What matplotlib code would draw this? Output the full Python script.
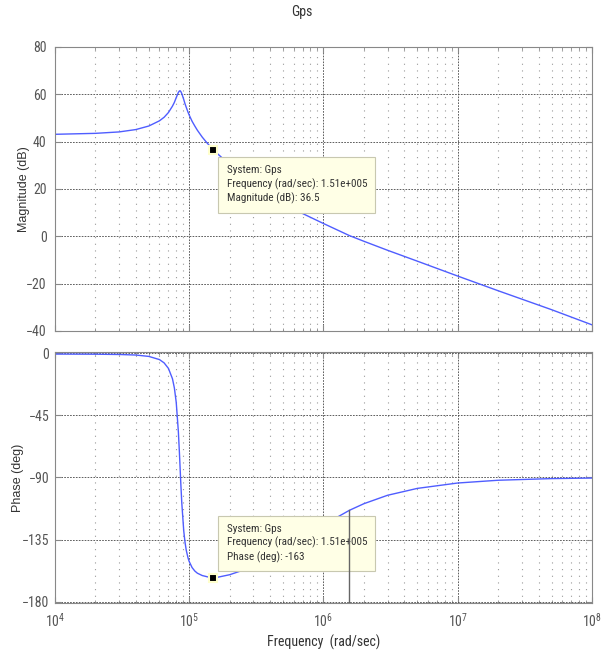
import matplotlib
matplotlib.use("Agg")
import matplotlib.pyplot as plt
from matplotlib.ticker import LogLocator, NullFormatter

plt.rcParams["font.family"] = ["Roboto Condensed", "Liberation Sans", "DejaVu Sans"]

# frequency response
freq = [1e4, 2e4, 3e4, 4e4, 5e4, 6e4, 6.5e4, 7e4, 7.5e4, 7.75e4, 8e4, 8.3e4, 8.45e4, 8.55e4,
        8.65e4, 8.8e4, 9.1e4, 9.3e4, 9.5e4, 9.8e4, 1e5, 1.05e5, 1.1e5, 1.15e5, 1.25e5, 1.35e5,
        1.51e5, 2e5, 3e5, 5e5, 7e5, 1e6, 1.56e6, 2e6, 3e6, 5e6, 1e7, 2e7, 5e7, 1e8]
mag_db = [43.1, 43.5, 44.1, 45.1, 46.6, 48.8, 50.3, 52.3, 55.0, 56.6, 58.6, 60.8, 61.4, 61.5,
          61.2, 60.3, 57.8, 56.0, 54.5, 52.4, 51.2, 48.6, 46.6, 44.8, 41.9, 39.6,
          36.5, 30.3, 22.6, 14.4, 9.6, 5.4, 0.3, -2.1, -5.9, -10.5, -16.8, -23.0, -31.0, -37.4]
phase_deg = [-0.5, -0.6, -0.8, -1.2, -2.2, -4.5, -6.9, -10.9, -18.4, -25.1, -35.5, -56.9, -72.0, -83.0,
             -94.0, -108.4, -128.7, -136.9, -142.7, -148.4, -151.0, -155.3, -157.8, -159.4, -161.1, -161.9,
             -163.0, -160.5, -154.7, -143.3, -134.1, -124.4, -113.8, -109.0, -102.9, -97.9, -94.0, -92.0, -90.8, -90.4]

tip_freq = 1.51e5
tip_mag = 36.5
tip_phase = -163
cross_freq = 1.56e6
cross_phase = -113.8

mag_ticks = [-40, -20, 0, 20, 40, 60, 80]
phase_ticks = [-180, -135, -90, -45, 0]

line_color = "#4f5dff"
label_color = "#555555"
box_style = dict(boxstyle="square,pad=0.75", facecolor="#ffffe6", edgecolor="#c8c8b0", linewidth=0.8)

fig = plt.figure(figsize=(6.03, 6.55), dpi=100)
ax_mag = fig.add_axes([0.0912, 0.4947, 0.8905, 0.4336])
ax_ph = fig.add_axes([0.0912, 0.0794, 0.8905, 0.3832])


def style_axis(ax, yticks, ylim):
    ax.set_xscale("log")
    ax.set_xlim(1e4, 1e8)
    ax.set_ylim(*ylim)
    ax.set_yticks(yticks)
    ax.xaxis.set_minor_locator(LogLocator(base=10, subs=range(2, 10), numticks=20))
    ax.xaxis.set_minor_formatter(NullFormatter())
    ax.grid(True, which="major", color="#444444", linestyle=(0, (2, 1.5)), linewidth=0.6)
    ax.grid(True, which="minor", axis="x", color="#999999", linestyle=(0, (1, 5)), linewidth=0.8)
    ax.tick_params(which="both", direction="in", colors="#888888", labelcolor=label_color,
                   labelsize=10, top=True, right=True)
    ax.tick_params(which="major", length=4, pad=6)
    ax.tick_params(which="minor", length=2)
    for s in ax.spines.values():
        s.set_color("#888888")
        s.set_linewidth(0.8)


style_axis(ax_mag, mag_ticks, (-40, 80))
style_axis(ax_ph, phase_ticks, (-181, 1))
ax_mag.tick_params(labelbottom=False)
ax_ph.tick_params(axis="y", pad=4)

ax_mag.plot(freq, mag_db, color=line_color, linewidth=1.0)
ax_ph.plot(freq, phase_deg, color=line_color, linewidth=1.0)

# vertical marker on phase plot
ax_ph.plot([cross_freq, cross_freq], [-181, cross_phase], color="#666666", linewidth=1.0, zorder=6)

# data tips
for ax, yv, txt, off, va in [
        (ax_mag, tip_mag, "System: Gps\nFrequency (rad/sec): 1.51e+005\nMagnitude (dB): 36.5", (9.6, -11), "top"),
        (ax_ph, tip_phase, "System: Gps\nFrequency (rad/sec): 1.51e+005\nPhase (deg): -163", (9.6, 11), "bottom")]:
    ax.plot([tip_freq], [yv], marker="s", markersize=6, color="black",
            markeredgecolor="#ffffcc", markeredgewidth=1.5, zorder=5)
    ax.annotate(txt, xy=(tip_freq, yv), xytext=off, textcoords="offset points",
                ha="left", va=va, fontsize=8, color="#333333", linespacing=1.35,
                bbox=box_style, zorder=4)

ylab_font = dict(fontsize=9, color="#333333", family=["Liberation Sans", "DejaVu Sans"])
ax_mag.set_ylabel("Magnitude (dB)", **ylab_font)
ax_ph.set_ylabel("Phase (deg)", **ylab_font)
ax_mag.yaxis.set_label_coords(-0.046, 0.5)
ax_ph.yaxis.set_label_coords(-0.058, 0.5)
ax_ph.set_xlabel("Frequency  (rad/sec)", fontsize=10, color="#333333", labelpad=4)
fig.text(0.5, 0.981, "Gps", ha="center", va="center", fontsize=10, color="#333333")

fig.savefig("out.png", dpi=100)
